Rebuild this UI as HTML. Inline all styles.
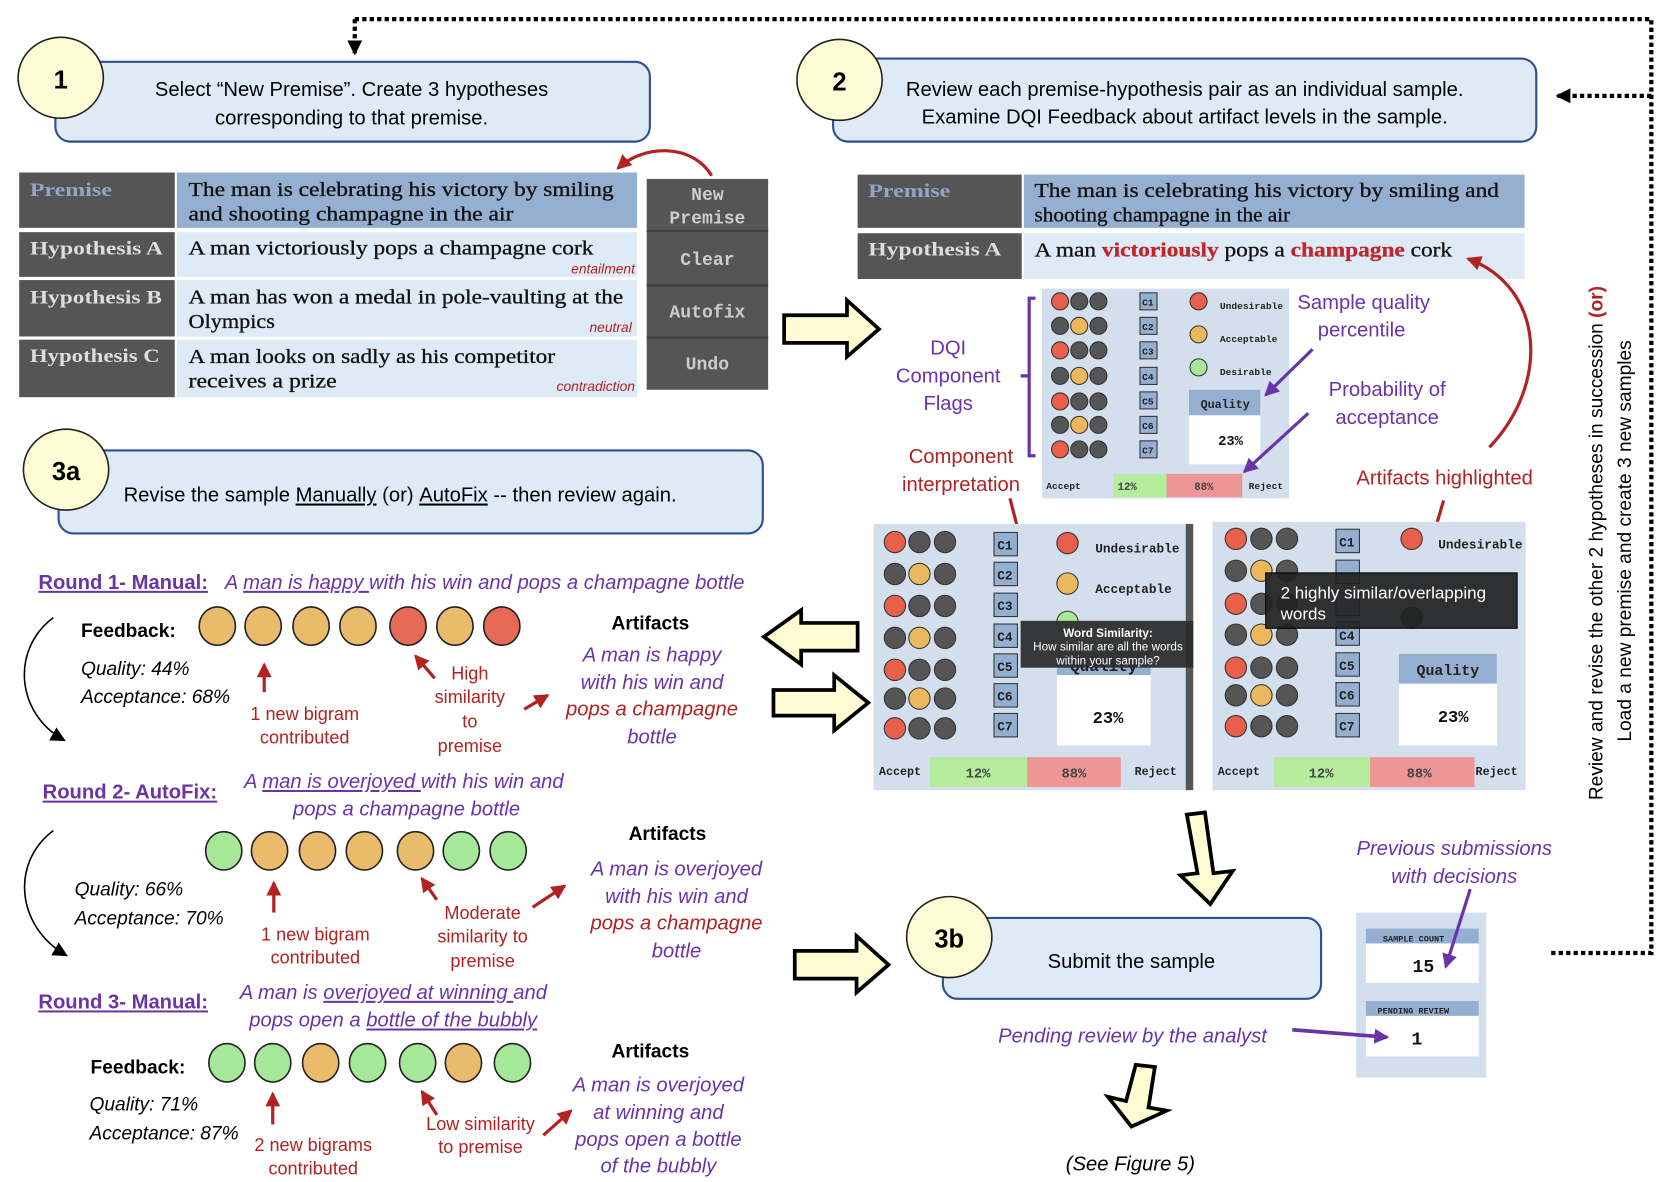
<!DOCTYPE html>
<html><head><meta charset="utf-8"><style>
html,body{margin:0;padding:0;background:#fff;}
svg{display:block;}
.c{font-family:"Liberation Sans Narrow","Liberation Sans",sans-serif;}
.s{font-family:"Liberation Serif",serif;}
.m{font-family:"Liberation Mono",monospace;font-weight:bold;}
.a{font-family:"Liberation Sans",sans-serif;}
</style></head><body>
<svg width="1662" height="1182" viewBox="0 0 1560 1110" preserveAspectRatio="none" xmlns="http://www.w3.org/2000/svg">
<defs>
<marker id="ab2" markerWidth="14" markerHeight="14" refX="12" refY="7" orient="auto" markerUnits="userSpaceOnUse"><path d="M0,0 L14,7 L0,14 Z" fill="#000"/></marker>
<marker id="ar" markerWidth="14" markerHeight="14" refX="12" refY="7" orient="auto" markerUnits="userSpaceOnUse"><path d="M0,0 L14,7 L0,14 Z" fill="#b22222"/></marker>
<marker id="ap" markerWidth="14" markerHeight="14" refX="12" refY="7" orient="auto" markerUnits="userSpaceOnUse"><path d="M0,0 L14,7 L0,14 Z" fill="#6a34a8"/></marker>
</defs>

<path d="M333,18 H1550 V895 H1455" fill="none" stroke="#000" stroke-width="4" stroke-dasharray="4,3"/>
<path d="M333,18 V50" fill="none" stroke="#000" stroke-width="4" stroke-dasharray="4,3" marker-end="url(#ab2)"/>
<path d="M1550,90 H1462" fill="none" stroke="#000" stroke-width="4" stroke-dasharray="4,3" marker-end="url(#ab2)"/>

<rect x="52" y="58" width="558" height="75" rx="14" fill="#dfeaf7" stroke="#2f4f8f" stroke-width="2"/>
<ellipse cx="57" cy="73" rx="40" ry="38" fill="#fefcd4" stroke="#222" stroke-width="1.5"/>
<text x="57" y="83" class="a" font-size="24" font-weight="bold" text-anchor="middle">1</text>
<text x="330" y="90" class="c" font-size="19" text-anchor="middle">Select “New Premise”. Create 3  hypotheses</text>
<text x="330" y="117" class="c" font-size="19" text-anchor="middle">corresponding to that premise.</text>

<rect x="18" y="162" width="146" height="52" fill="#555"/>
<rect x="166" y="162" width="432" height="52" fill="#95afd0"/>
<rect x="18" y="218" width="146" height="42" fill="#555"/>
<rect x="166" y="218" width="432" height="42" fill="#dfeaf7"/>
<rect x="18" y="263" width="146" height="53" fill="#555"/>
<rect x="166" y="263" width="432" height="53" fill="#dfeaf7"/>
<rect x="18" y="319" width="146" height="54" fill="#555"/>
<rect x="166" y="319" width="432" height="54" fill="#dfeaf7"/>
<g class="s" font-weight="bold" font-size="18">
<text x="28" y="184" fill="#8fa6c6" textLength="77" lengthAdjust="spacingAndGlyphs">Premise</text>
<text x="28" y="239" fill="#ddd" textLength="125" lengthAdjust="spacingAndGlyphs">Hypothesis A</text>
<text x="28" y="285" fill="#ddd" textLength="124" lengthAdjust="spacingAndGlyphs">Hypothesis B</text>
<text x="28" y="340" fill="#ddd" textLength="122" lengthAdjust="spacingAndGlyphs">Hypothesis C</text>
</g>
<g class="s" font-size="19" fill="#111" stroke="#111" stroke-width="0.3">
<text x="177" y="184" textLength="399" lengthAdjust="spacingAndGlyphs">The man is celebrating his victory by smiling</text>
<text x="177" y="207" textLength="305" lengthAdjust="spacingAndGlyphs">and shooting champagne in the air</text>
<text x="177" y="239" textLength="380" lengthAdjust="spacingAndGlyphs">A man victoriously pops a champagne cork</text>
<text x="177" y="285" textLength="408" lengthAdjust="spacingAndGlyphs">A man has won a medal in pole-vaulting at the</text>
<text x="177" y="308" textLength="81" lengthAdjust="spacingAndGlyphs">Olympics</text>
<text x="177" y="341" textLength="344" lengthAdjust="spacingAndGlyphs">A man looks on sadly as his competitor</text>
<text x="177" y="364" textLength="139" lengthAdjust="spacingAndGlyphs">receives a prize</text>
</g>
<g class="c" font-size="13" font-style="italic" fill="#b22222" text-anchor="end">
<text x="596" y="257">entailment</text>
<text x="593" y="312">neutral</text>
<text x="596" y="367">contradiction</text>
</g>
<rect x="607" y="168" width="114" height="198" fill="#555"/>
<g stroke="#3e3e3e" stroke-width="2"><line x1="607" y1="217" x2="721" y2="217"/><line x1="607" y1="268" x2="721" y2="268"/><line x1="607" y1="317" x2="721" y2="317"/></g>
<g class="m" font-size="17" fill="#ccc" text-anchor="middle">
<text x="664" y="188">New</text><text x="664" y="210">Premise</text>
<text x="664" y="249">Clear</text><text x="664" y="298">Autofix</text><text x="664" y="347">Undo</text>
</g>
<path d="M668,165 C650,135 605,135 580,158" fill="none" stroke="#b22222" stroke-width="3" marker-end="url(#ar)"/>

<rect x="782" y="55" width="660" height="78" rx="14" fill="#dfeaf7" stroke="#2f4f8f" stroke-width="2"/>
<ellipse cx="788" cy="75" rx="40" ry="38" fill="#fefcd4" stroke="#222" stroke-width="1.5"/>
<text x="788" y="85" class="a" font-size="24" font-weight="bold" text-anchor="middle">2</text>
<text x="1112" y="90" class="c" font-size="19" text-anchor="middle">Review each premise-hypothesis pair as an individual sample.</text>
<text x="1112" y="116" class="c" font-size="19" text-anchor="middle">Examine DQI Feedback about artifact levels in the sample.</text>

<rect x="805" y="164" width="154" height="50" fill="#555"/>
<rect x="961" y="164" width="470" height="50" fill="#95afd0"/>
<rect x="805" y="219" width="154" height="43" fill="#555"/>
<rect x="961" y="219" width="470" height="43" fill="#dfeaf7"/>
<g class="s" font-weight="bold" font-size="18">
<text x="815" y="185" fill="#8fa6c6" textLength="77" lengthAdjust="spacingAndGlyphs">Premise</text>
<text x="815" y="240" fill="#ddd" textLength="125" lengthAdjust="spacingAndGlyphs">Hypothesis A</text>
</g>
<g class="s" font-size="19" fill="#111" stroke="#111" stroke-width="0.3">
<text x="971" y="185" textLength="436" lengthAdjust="spacingAndGlyphs">The man is celebrating his victory by smiling and</text>
<text x="971" y="208" textLength="240" lengthAdjust="spacingAndGlyphs">shooting champagne in the air</text>
<text x="971" y="241" textLength="392" lengthAdjust="spacingAndGlyphs">A man <tspan fill="#c0272d" stroke="#c0272d" font-weight="bold">victoriously</tspan> pops a <tspan fill="#c0272d" stroke="#c0272d" font-weight="bold">champagne</tspan> cork</text>
</g>

<path d="M736,296 H795 V282 L825,309 L795,335 V322 H736 Z" fill="#fffbd2" stroke="#000" stroke-width="3.5"/>

<rect x="978" y="271" width="232" height="197" fill="#d3dfec"/>
<g stroke="#333" stroke-width="1">
<circle cx="995" cy="283" r="8" fill="#e8604c"/><circle cx="1013" cy="283" r="8" fill="#555"/><circle cx="1031" cy="283" r="8" fill="#555"/>
<circle cx="995" cy="306" r="8" fill="#555"/><circle cx="1013" cy="306" r="8" fill="#ebb85e"/><circle cx="1031" cy="306" r="8" fill="#555"/>
<circle cx="995" cy="329" r="8" fill="#e8604c"/><circle cx="1013" cy="329" r="8" fill="#555"/><circle cx="1031" cy="329" r="8" fill="#555"/>
<circle cx="995" cy="353" r="8" fill="#555"/><circle cx="1013" cy="353" r="8" fill="#ebb85e"/><circle cx="1031" cy="353" r="8" fill="#555"/>
<circle cx="995" cy="377" r="8" fill="#e8604c"/><circle cx="1013" cy="377" r="8" fill="#555"/><circle cx="1031" cy="377" r="8" fill="#555"/>
<circle cx="995" cy="399" r="8" fill="#555"/><circle cx="1013" cy="399" r="8" fill="#ebb85e"/><circle cx="1031" cy="399" r="8" fill="#555"/>
<circle cx="995" cy="422" r="8" fill="#e8604c"/><circle cx="1013" cy="422" r="8" fill="#555"/><circle cx="1031" cy="422" r="8" fill="#555"/>
<circle cx="1125" cy="283" r="8" fill="#e8604c"/><circle cx="1125" cy="314" r="8" fill="#ebb85e"/><circle cx="1125" cy="345" r="8" fill="#a7e89a"/>
</g>
<g stroke="#333" stroke-width="1" fill="#95afd0">
<rect x="1070" y="275" width="16" height="16"/><rect x="1070" y="298" width="16" height="16"/><rect x="1070" y="321" width="16" height="16"/><rect x="1070" y="345" width="16" height="16"/><rect x="1070" y="368" width="16" height="16"/><rect x="1070" y="391" width="16" height="16"/><rect x="1070" y="414" width="16" height="16"/>
</g>
<g class="m" font-size="9" fill="#222">
<text x="1072" y="287">C1</text><text x="1072" y="310">C2</text><text x="1072" y="333">C3</text><text x="1072" y="357">C4</text><text x="1072" y="380">C5</text><text x="1072" y="403">C6</text><text x="1072" y="426">C7</text>
<text x="1145" y="290">Undesirable</text><text x="1145" y="321">Acceptable</text><text x="1145" y="352">Desirable</text>
<text x="982" y="459">Accept</text><text x="1172" y="459">Reject</text>
</g>
<rect x="1116" y="366" width="67" height="70" fill="#fff"/>
<rect x="1116" y="366" width="67" height="24" fill="#95afd0"/>
<text x="1150" y="383" class="m" font-size="11" text-anchor="middle" fill="#222">Quality</text>
<text x="1155" y="418" class="m" font-size="13" text-anchor="middle" fill="#111">23%</text>
<rect x="1045" y="445" width="50" height="22" fill="#b5ec9e"/><rect x="1095" y="445" width="71" height="22" fill="#ee9595"/>
<g class="m" font-size="10" fill="#444" text-anchor="middle"><text x="1058" y="460">12%</text><text x="1130" y="460">88%</text></g>

<path d="M972,280 H966 V428 H972 M966,353 H958" fill="none" stroke="#6a34a8" stroke-width="3"/>
<g class="c" font-size="19" fill="#6a34a8" text-anchor="middle">
<text x="890" y="333">DQI</text><text x="890" y="359">Component</text><text x="890" y="385">Flags</text>
<text x="1280" y="290">Sample quality</text><text x="1278" y="316">percentile</text>
<text x="1302" y="372">Probability of</text><text x="1302" y="398">acceptance</text>
</g>
<g class="c" font-size="19" fill="#b22222" text-anchor="middle">
<text x="902" y="435">Component</text><text x="902" y="461">interpretation</text>
<text x="1356" y="455">Artifacts highlighted</text>
</g>
<line x1="1232" y1="328" x2="1188" y2="371" stroke="#6a34a8" stroke-width="3" marker-end="url(#ap)"/>
<line x1="1228" y1="388" x2="1168" y2="443" stroke="#6a34a8" stroke-width="3" marker-end="url(#ap)"/>
<path d="M1398,420 C1455,360 1450,270 1378,243" fill="none" stroke="#b22222" stroke-width="3" marker-end="url(#ar)"/>
<line x1="948" y1="468" x2="975" y2="573" stroke="#b22222" stroke-width="3" marker-end="url(#ar)"/>
<line x1="1355" y1="470" x2="1333" y2="545" stroke="#b22222" stroke-width="3" marker-end="url(#ar)"/>

<rect x="820" y="492" width="300" height="250" fill="#d3dfec"/>
<rect x="1113" y="492" width="7" height="250" fill="#555"/>
<g stroke="#333" stroke-width="1">
<circle cx="840" cy="509" r="10" fill="#e8604c"/><circle cx="863" cy="509" r="10" fill="#555"/><circle cx="887" cy="509" r="10" fill="#555"/>
<circle cx="840" cy="539" r="10" fill="#555"/><circle cx="863" cy="539" r="10" fill="#ebb85e"/><circle cx="887" cy="539" r="10" fill="#555"/>
<circle cx="840" cy="569" r="10" fill="#e8604c"/><circle cx="863" cy="569" r="10" fill="#555"/><circle cx="887" cy="569" r="10" fill="#555"/>
<circle cx="840" cy="599" r="10" fill="#555"/><circle cx="863" cy="599" r="10" fill="#ebb85e"/><circle cx="887" cy="599" r="10" fill="#555"/>
<circle cx="840" cy="629" r="10" fill="#e8604c"/><circle cx="863" cy="629" r="10" fill="#555"/><circle cx="887" cy="629" r="10" fill="#555"/>
<circle cx="840" cy="656" r="10" fill="#555"/><circle cx="863" cy="656" r="10" fill="#ebb85e"/><circle cx="887" cy="656" r="10" fill="#555"/>
<circle cx="840" cy="684" r="10" fill="#e8604c"/><circle cx="863" cy="684" r="10" fill="#555"/><circle cx="887" cy="684" r="10" fill="#555"/>
<circle cx="1002" cy="510" r="10" fill="#e8604c"/><circle cx="1002" cy="548" r="10" fill="#ebb85e"/><circle cx="1002" cy="584" r="10" fill="#a7e89a"/>
</g>
<g stroke="#333" stroke-width="1" fill="#95afd0">
<rect x="933" y="500" width="22" height="22"/><rect x="933" y="528" width="22" height="22"/><rect x="933" y="557" width="22" height="22"/><rect x="933" y="586" width="22" height="22"/><rect x="933" y="614" width="22" height="22"/><rect x="933" y="642" width="22" height="22"/><rect x="933" y="670" width="22" height="22"/>
</g>
<g class="m" font-size="12" fill="#222">
<text x="936" y="516">C1</text><text x="936" y="544">C2</text><text x="936" y="573">C3</text><text x="936" y="602">C4</text><text x="936" y="630">C5</text><text x="936" y="658">C6</text><text x="936" y="686">C7</text>
<text x="1028" y="519">Undesirable</text><text x="1028" y="557">Acceptable</text>
<text x="825" y="728" font-size="11">Accept</text><text x="1065" y="728" font-size="11">Reject</text>
</g>
<rect x="992" y="612" width="88" height="88" fill="#fff"/>
<rect x="992" y="612" width="88" height="22" fill="#95afd0"/>
<text x="1036" y="630" class="m" font-size="15" text-anchor="middle" fill="#222">Quality</text>
<text x="1040" y="679" class="m" font-size="16" text-anchor="middle" fill="#111">23%</text>
<rect x="958" y="583" width="162" height="44" fill="#2b2b2b" fill-opacity="0.93"/>
<g class="a" font-size="11" fill="#fff" text-anchor="middle">
<text x="1040" y="598" font-weight="bold">Word Similarity:</text>
<text x="1040" y="611">How similar are all the words</text>
<text x="1040" y="624">within your sample?</text>
</g>
<rect x="873" y="711" width="91" height="28" fill="#b5ec9e"/><rect x="964" y="711" width="88" height="28" fill="#ee9595"/>
<g class="m" font-size="13" fill="#444" text-anchor="middle"><text x="918" y="730">12%</text><text x="1008" y="730">88%</text></g>

<rect x="1138" y="490" width="294" height="252" fill="#d3dfec"/>
<g stroke="#333" stroke-width="1">
<circle cx="1160" cy="506" r="10" fill="#e8604c"/><circle cx="1184" cy="506" r="10" fill="#555"/><circle cx="1208" cy="506" r="10" fill="#555"/>
<circle cx="1160" cy="536" r="10" fill="#555"/><circle cx="1184" cy="536" r="10" fill="#ebb85e"/><circle cx="1208" cy="536" r="10" fill="#555"/>
<circle cx="1160" cy="567" r="10" fill="#e8604c"/><circle cx="1184" cy="567" r="10" fill="#555"/><circle cx="1208" cy="567" r="10" fill="#555"/>
<circle cx="1160" cy="596" r="10" fill="#555"/><circle cx="1184" cy="596" r="10" fill="#ebb85e"/><circle cx="1208" cy="596" r="10" fill="#555"/>
<circle cx="1160" cy="627" r="10" fill="#e8604c"/><circle cx="1184" cy="627" r="10" fill="#555"/><circle cx="1208" cy="627" r="10" fill="#555"/>
<circle cx="1160" cy="653" r="10" fill="#555"/><circle cx="1184" cy="653" r="10" fill="#ebb85e"/><circle cx="1208" cy="653" r="10" fill="#555"/>
<circle cx="1160" cy="682" r="10" fill="#e8604c"/><circle cx="1184" cy="682" r="10" fill="#555"/><circle cx="1208" cy="682" r="10" fill="#555"/>
<circle cx="1325" cy="506" r="10" fill="#e8604c"/><circle cx="1325" cy="580" r="10" fill="#2f4a2a"/>
</g>
<g stroke="#333" stroke-width="1" fill="#95afd0">
<rect x="1254" y="497" width="22" height="22"/><rect x="1254" y="526" width="22" height="22"/><rect x="1254" y="556" width="22" height="22"/><rect x="1254" y="584" width="22" height="22"/><rect x="1254" y="613" width="22" height="22"/><rect x="1254" y="641" width="22" height="22"/><rect x="1254" y="670" width="22" height="22"/>
</g>
<g class="m" font-size="12" fill="#222">
<text x="1257" y="513">C1</text><text x="1257" y="601">C4</text><text x="1257" y="629">C5</text><text x="1257" y="657">C6</text><text x="1257" y="686">C7</text>
<text x="1350" y="515">Undesirable</text>
<text x="1143" y="728" font-size="11">Accept</text><text x="1385" y="728" font-size="11">Reject</text>
</g>
<rect x="1313" y="614" width="92" height="86" fill="#fff"/>
<rect x="1313" y="614" width="92" height="28" fill="#95afd0"/>
<text x="1359" y="634" class="m" font-size="14" text-anchor="middle" fill="#222">Quality</text>
<text x="1364" y="678" class="m" font-size="16" text-anchor="middle" fill="#111">23%</text>
<rect x="1188" y="538" width="236" height="52" fill="#222" fill-opacity="0.93" stroke="#000"/>
<text x="1202" y="562" class="a" font-size="16" fill="#fff">2 highly similar/overlapping</text>
<text x="1202" y="582" class="a" font-size="16" fill="#fff">words</text>
<rect x="1196" y="711" width="90" height="28" fill="#b5ec9e"/><rect x="1286" y="711" width="98" height="28" fill="#ee9595"/>
<g class="m" font-size="13" fill="#444" text-anchor="middle"><text x="1240" y="730">12%</text><text x="1332" y="730">88%</text></g>

<text transform="translate(1504,510) rotate(-90)" class="a" font-size="18" text-anchor="middle">Review and revise the other 2 hypotheses in succession <tspan fill="#b22222" font-weight="bold">(or)</tspan></text>
<text transform="translate(1531,508) rotate(-90)" class="a" font-size="18" text-anchor="middle">Load a new premise and create 3 new samples</text>

<rect x="55" y="423" width="661" height="78" rx="14" fill="#dfeaf7" stroke="#2f4f8f" stroke-width="2"/>
<ellipse cx="62" cy="441" rx="40" ry="38" fill="#fefcd4" stroke="#222" stroke-width="1.5"/>
<text x="62" y="451" class="a" font-size="24" font-weight="bold" text-anchor="middle">3a</text>
<text x="116" y="471" class="c" font-size="19">Revise the sample <tspan text-decoration="underline">Manually</tspan> (or) <tspan text-decoration="underline">AutoFix</tspan> -- then review again.</text>

<path d="M805,585 H752 V573 L717,598 L752,624 V611 H805 Z" fill="#fffbd2" stroke="#000" stroke-width="3.5"/>
<path d="M726,648 H783 V634 L815,660 L783,686 V672 H726 Z" fill="#fffbd2" stroke="#000" stroke-width="3.5"/>
<path d="M746,893 H804 V879 L834,906 L804,932 V919 H746 Z" fill="#fffbd2" stroke="#000" stroke-width="3.5"/>
<path d="M1114,765 L1131,763 L1139,820 L1157,818 L1136,849 L1108,822 L1124,820 Z" fill="#fffbd2" stroke="#000" stroke-width="3.5"/>
<path d="M1066,1000 L1084,1002 L1078,1040 L1095,1043 L1062,1058 L1040,1030 L1057,1034 Z" fill="#fffbd2" stroke="#000" stroke-width="3.5"/>

<g class="c" font-size="19" font-weight="bold" fill="#6a34a8" text-decoration="underline">
<text x="36" y="553">Round 1- Manual:</text>
<text x="40" y="750">Round 2- AutoFix:</text>
<text x="36" y="947">Round 3- Manual:</text>
</g>
<g class="c" font-size="19" font-style="italic" fill="#6a34a8">
<text x="211" y="553">A <tspan text-decoration="underline">man is happy </tspan>with his win and pops a champagne bottle</text>
<text x="229" y="740">A <tspan text-decoration="underline">man is overjoyed </tspan>with his win and</text>
<text x="275" y="766">pops a champagne bottle</text>
<text x="225" y="938">A man is <tspan text-decoration="underline">overjoyed at winning </tspan>and</text>
<text x="234" y="964">pops open a <tspan text-decoration="underline">bottle of the bubbly</tspan></text>
</g>
<g class="c" font-size="18" font-weight="bold" fill="#000">
<text x="76" y="598">Feedback:</text>
<text x="85" y="1008">Feedback:</text>
<text x="574" y="591">Artifacts</text>
<text x="590" y="789">Artifacts</text>
<text x="574" y="993">Artifacts</text>
</g>
<g class="c" font-size="18" font-style="italic" fill="#000">
<text x="76" y="634">Quality: 44%</text><text x="76" y="660">Acceptance: 68%</text>
<text x="70" y="841">Quality: 66%</text><text x="70" y="868">Acceptance: 70%</text>
<text x="84" y="1043">Quality:  71%</text><text x="84" y="1070">Acceptance: 87%</text>
</g>
<g stroke="#222" stroke-width="1.5">
<ellipse cx="204" cy="588" rx="17" ry="18" fill="#ebbb6c"/><ellipse cx="247" cy="588" rx="17" ry="18" fill="#ebbb6c"/><ellipse cx="292" cy="588" rx="17" ry="18" fill="#ebbb6c"/><ellipse cx="336" cy="588" rx="17" ry="18" fill="#ebbb6c"/><ellipse cx="383" cy="588" rx="17" ry="18" fill="#e66a56"/><ellipse cx="427" cy="588" rx="17" ry="18" fill="#ebbb6c"/><ellipse cx="471" cy="588" rx="17" ry="18" fill="#e66a56"/>
<ellipse cx="210" cy="799" rx="17" ry="18" fill="#a6e899"/><ellipse cx="253" cy="799" rx="17" ry="18" fill="#ebbb6c"/><ellipse cx="298" cy="799" rx="17" ry="18" fill="#ebbb6c"/><ellipse cx="342" cy="799" rx="17" ry="18" fill="#ebbb6c"/><ellipse cx="390" cy="799" rx="17" ry="18" fill="#ebbb6c"/><ellipse cx="433" cy="799" rx="17" ry="18" fill="#a6e899"/><ellipse cx="477" cy="799" rx="17" ry="18" fill="#a6e899"/>
<ellipse cx="213" cy="998" rx="17" ry="18" fill="#a6e899"/><ellipse cx="256" cy="998" rx="17" ry="18" fill="#a6e899"/><ellipse cx="301" cy="998" rx="17" ry="18" fill="#ebbb6c"/><ellipse cx="345" cy="998" rx="17" ry="18" fill="#a6e899"/><ellipse cx="392" cy="998" rx="17" ry="18" fill="#a6e899"/><ellipse cx="435" cy="998" rx="17" ry="18" fill="#ebbb6c"/><ellipse cx="481" cy="998" rx="17" ry="18" fill="#a6e899"/>
</g>
<g stroke="#b22222" stroke-width="3">
<line x1="248" y1="650" x2="248" y2="624" marker-end="url(#ar)"/>
<line x1="408" y1="637" x2="390" y2="616" marker-end="url(#ar)"/>
<line x1="492" y1="666" x2="514" y2="653" marker-end="url(#ar)"/>
<line x1="257" y1="857" x2="257" y2="829" marker-end="url(#ar)"/>
<line x1="410" y1="845" x2="396" y2="825" marker-end="url(#ar)"/>
<line x1="500" y1="852" x2="530" y2="832" marker-end="url(#ar)"/>
<line x1="256" y1="1056" x2="256" y2="1027" marker-end="url(#ar)"/>
<line x1="410" y1="1047" x2="396" y2="1025" marker-end="url(#ar)"/>
<line x1="510" y1="1066" x2="536" y2="1043" marker-end="url(#ar)"/>
</g>
<g class="c" font-size="17" fill="#b22222" text-anchor="middle">
<text x="286" y="676">1 new bigram</text><text x="286" y="698">contributed</text>
<text x="441" y="638">High</text><text x="441" y="660">similarity</text><text x="441" y="683">to</text><text x="441" y="706">premise</text>
<text x="296" y="883">1 new bigram</text><text x="296" y="905">contributed</text>
<text x="453" y="863">Moderate</text><text x="453" y="885">similarity to</text><text x="453" y="908">premise</text>
<text x="294" y="1081">2 new bigrams</text><text x="294" y="1103">contributed</text>
<text x="451" y="1061">Low similarity</text><text x="451" y="1083">to premise</text>
</g>
<g class="c" font-size="19" font-style="italic" text-anchor="middle">
<text x="612" y="621" fill="#6a34a8">A man is happy</text><text x="612" y="647" fill="#6a34a8">with his win and</text><text x="612" y="672" fill="#b22222">pops a champagne</text><text x="612" y="698" fill="#6a34a8">bottle</text>
<text x="635" y="822" fill="#6a34a8">A man is overjoyed</text><text x="635" y="848" fill="#6a34a8">with his win and</text><text x="635" y="873" fill="#b22222">pops a champagne</text><text x="635" y="899" fill="#6a34a8">bottle</text>
<text x="618" y="1025" fill="#6a34a8">A man is overjoyed</text><text x="618" y="1051" fill="#6a34a8">at winning and</text><text x="618" y="1076" fill="#6a34a8">pops open a bottle</text><text x="618" y="1101" fill="#6a34a8">of the bubbly</text>
</g>
<path d="M50,580 C10,610 15,670 60,695" fill="none" stroke="#000" stroke-width="1.5" marker-end="url(#ab2)"/>
<path d="M50,780 C10,810 15,870 62,897" fill="none" stroke="#000" stroke-width="1.5" marker-end="url(#ab2)"/>

<rect x="885" y="862" width="355" height="76" rx="14" fill="#dfeaf7" stroke="#2f4f8f" stroke-width="2"/>
<ellipse cx="891" cy="880" rx="40" ry="38" fill="#fefcd4" stroke="#222" stroke-width="1.5"/>
<text x="891" y="890" class="a" font-size="24" font-weight="bold" text-anchor="middle">3b</text>
<text x="1062" y="909" class="c" font-size="19" text-anchor="middle">Submit the sample</text>
<text x="1063" y="979" class="c" font-size="19" font-style="italic" fill="#6a34a8" text-anchor="middle">Pending review by the analyst</text>
<text x="1061" y="1099" class="c" font-size="19" font-style="italic" text-anchor="middle">(See Figure 5)</text>
<text x="1365" y="803" class="c" font-size="19" font-style="italic" fill="#6a34a8" text-anchor="middle">Previous submissions</text>
<text x="1365" y="829" class="c" font-size="19" font-style="italic" fill="#6a34a8" text-anchor="middle">with decisions</text>

<rect x="1273" y="857" width="122" height="155" fill="#d3dfec"/>
<rect x="1282" y="872" width="106" height="51" fill="#fff"/><rect x="1282" y="872" width="106" height="14" fill="#95afd0"/>
<rect x="1282" y="940" width="106" height="52" fill="#fff"/><rect x="1282" y="940" width="106" height="14" fill="#95afd0"/>
<g class="m" font-size="8" fill="#222"><text x="1298" y="884">SAMPLE COUNT</text><text x="1293" y="952">PENDING REVIEW</text></g>
<text x="1336" y="913" class="m" font-size="17" text-anchor="middle" fill="#111">15</text>
<text x="1330" y="981" class="m" font-size="17" text-anchor="middle" fill="#111">1</text>
<line x1="1380" y1="835" x2="1357" y2="908" stroke="#6a34a8" stroke-width="3" marker-end="url(#ap)"/>
<line x1="1213" y1="967" x2="1302" y2="974" stroke="#6a34a8" stroke-width="3.5" marker-end="url(#ap)"/>
</svg>
</body></html>
